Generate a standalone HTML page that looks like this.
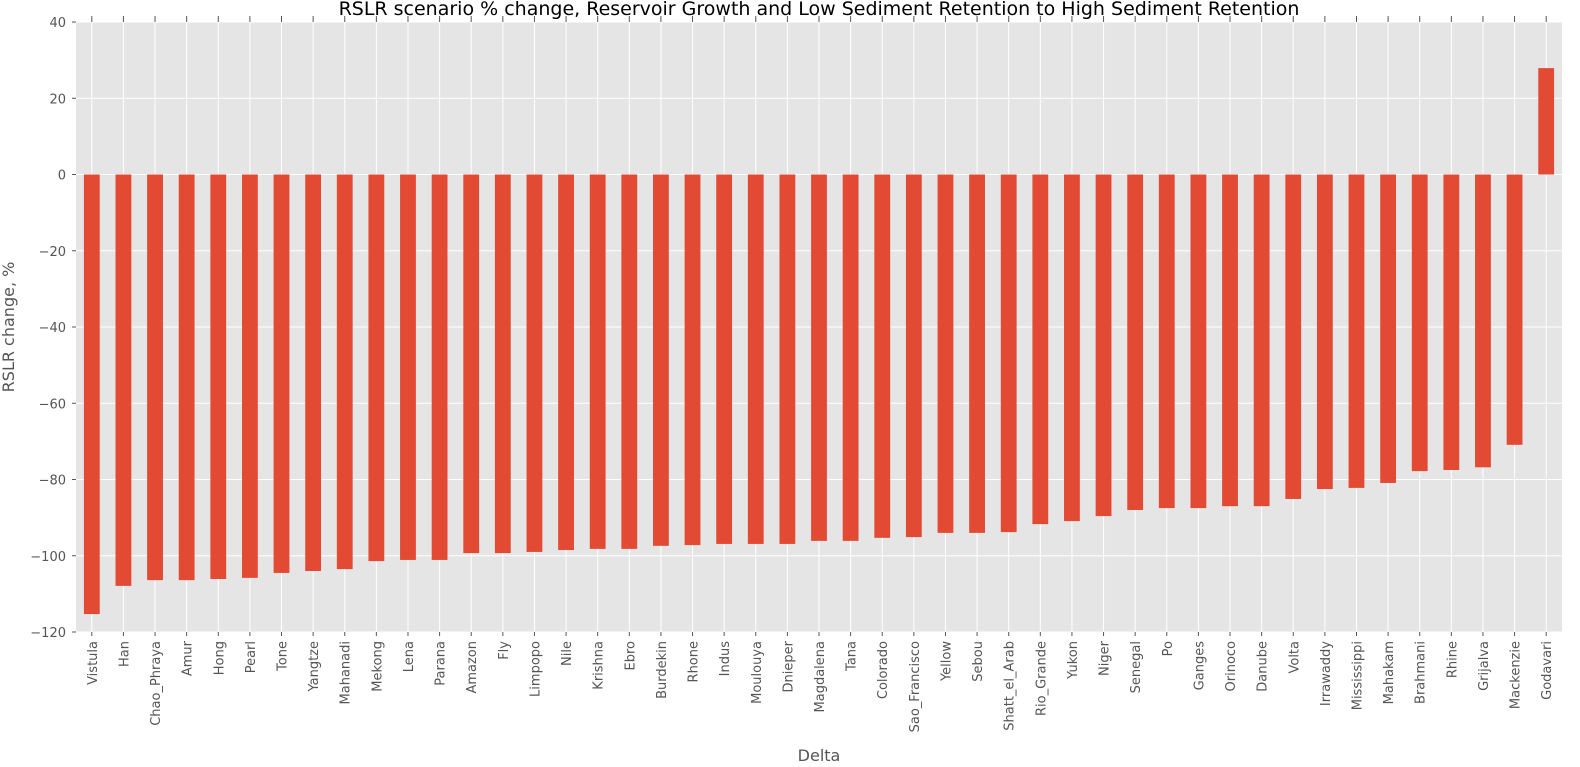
<!DOCTYPE html>
<html><head><meta charset="utf-8"><style>
html,body{margin:0;padding:0;background:#fff;}
svg{display:block;font-family:"DejaVu Sans","Liberation Sans",sans-serif;}
</style></head><body>
<svg id="chart" width="1580" height="767"></svg>
<script>
const categories=["Vistula","Han","Chao_Phraya","Amur","Hong","Pearl","Tone","Yangtze","Mahanadi","Mekong","Lena","Parana","Amazon","Fly","Limpopo","Nile","Krishna","Ebro","Burdekin","Rhone","Indus","Moulouya","Dnieper","Magdalena","Tana","Colorado","Sao_Francisco","Yellow","Sebou","Shatt_el_Arab","Rio_Grande","Yukon","Niger","Senegal","Po","Ganges","Orinoco","Danube","Volta","Irrawaddy","Mississippi","Mahakam","Brahmani","Rhine","Grijalva","Mackenzie","Godavari"];
const values=[-115.3,-107.9,-106.4,-106.4,-106.1,-105.8,-104.5,-104.0,-103.5,-101.4,-101.1,-101.1,-99.3,-99.3,-99.0,-98.5,-98.2,-98.2,-97.4,-97.2,-96.9,-96.9,-96.9,-96.1,-96.1,-95.3,-95.1,-94.0,-94.0,-93.8,-91.7,-90.9,-89.6,-88.0,-87.5,-87.5,-87.0,-87.0,-85.1,-82.5,-82.2,-80.9,-77.8,-77.5,-76.8,-70.9,27.9];
const yTicks=[40,20,0,-20,-40,-60,-80,-100,-120];
const NS="http://www.w3.org/2000/svg";
const svg=document.getElementById('chart');
const L=76,R=1562,T=22,B=632,yMin=-120,yMax=40;
const y=v=>T+(yMax-v)/(yMax-yMin)*(B-T);
const step=(R-L)/categories.length;
const x=i=>L+step*(i+0.5);
function mk(tag,attrs,parent){const e=document.createElementNS(NS,tag);for(const k in attrs)e.setAttribute(k,attrs[k]);(parent||svg).appendChild(e);return e;}
const bg=mk('rect',{x:L,y:T,width:R-L,height:B-T,fill:'#e5e5e5'});


yTicks.forEach(t=>{
  const g=mk('line',{x1:L,x2:R,y1:y(t),y2:y(t),stroke:'#fff','stroke-width':1});
  
  
  const lb=mk('text',{x:L-10,y:y(t)+5,'text-anchor':'end','font-size':13,fill:'#555'});
  lb.textContent=t<0?'\u2212'+Math.abs(t):String(t);
  
  
  mk('line',{x1:L,x2:L-4,y1:y(t),y2:y(t),stroke:'#555'});
});
categories.forEach((c,i)=>{
  const cx=x(i);
  mk('line',{x1:cx,x2:cx,y1:T,y2:B,stroke:'#fff','stroke-width':1});
  mk('line',{x1:cx,x2:cx,y1:T-6,y2:T,stroke:'#555'});
  mk('line',{x1:cx,x2:cx,y1:B,y2:B+4,stroke:'#555'});
  const v=values[i];
  const bw=step*0.5;
  const b=mk('rect',{x:cx-bw/2,y:Math.min(y(v),y(0)),width:bw,height:Math.abs(y(v)-y(0)),fill:'#E24A33'});
  
  
  const lb=mk('text',{x:0,y:0,'text-anchor':'end','font-size':13,fill:'#555',transform:`translate(${cx+5},${B+9}) rotate(-90)`});
  lb.textContent=c;
  
  
});
const tt=mk('text',{x:(L+R)/2,y:15,'text-anchor':'middle','font-size':19,fill:'#000'});
tt.textContent='RSLR scenario % change, Reservoir Growth and Low Sediment Retention to High Sediment Retention';


const xt=mk('text',{x:(L+R)/2,y:761,'text-anchor':'middle','font-size':16,fill:'#555'});
xt.textContent='Delta';


const yt=mk('text',{x:0,y:0,'text-anchor':'middle','font-size':16,fill:'#555',transform:`translate(14,${(T+B)/2}) rotate(-90)`});
yt.textContent='RSLR change, %';


</script>
</body></html>
